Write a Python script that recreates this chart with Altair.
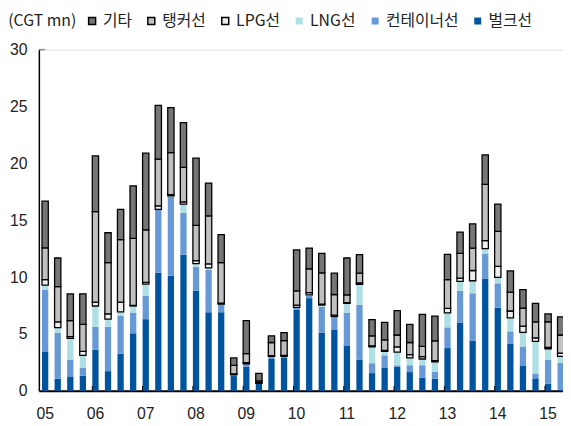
import altair as alt
import pandas as pd

quarters = [f"{y:02d}Q{q}" for y in range(5, 16) for q in range(1, 5)][:42]
year_starts = [q for q in quarters if q.endswith("Q1")]

series_names = ["기타", "탱커선", "LPG선", "LNG선", "컨테이너선", "벌크선"]
series_colors = ["#767676", "#C0C0C0", "#EEEEEE", "#AEDFE5", "#6699D5", "#00549F"]
series_strokes = ["#000000", "#000000", "#000000", "transparent", "transparent", "transparent"]
stack_rank = {"벌크선": 0, "컨테이너선": 1, "LNG선": 2, "LPG선": 3, "탱커선": 4, "기타": 5}

bulk = [3.47, 1.07, 1.27, 1.33, 3.61, 1.73, 3.27, 5.06, 6.3, 10.4,
        10.12, 11.97, 8.79, 6.91, 6.91, 1.3, 2.11, 0.66, 2.8, 2.89,
        7.14, 8.15, 5.12, 5.4, 3.99, 2.72, 1.56, 2.02, 2.11, 1.65,
        1.16, 1.07, 3.76, 6.01, 4.42, 9.88, 7.31, 4.16, 2.23, 1.1,
        0.61, 0.12]
container = [5.43, 4.05, 1.48, 0.69, 2.03, 3.91, 3.32, 1.82, 2.08, 5.5,
             6.93, 3.69, 2.13, 3.73, 0.66, 0.12, 0.26, 0.0, 0.23, 0.14,
             0.2, 0.23, 2.28, 1.07, 2.89, 4.85, 0.87, 1.1, 0.14, 0.6,
             1.09, 0.61, 1.82, 2.78, 4.16, 2.2, 2.14, 1.07, 1.67, 0.43,
             2.11, 2.34]
lng = [0.4, 0.43, 1.87, 1.1, 1.82, 0.66, 0.35, 0.58, 1.01, 0.05,
       0.09, 0.76, 0.26, 0.17, 0.05, 0.0, 0.0, 0.0, 0.0, 0.0,
       0.0, 0.06, 0.14, 0.06, 0.81, 1.79, 1.44, 0.35, 1.16, 0.64,
       0.55, 0.86, 1.27, 0.83, 1.1, 0.43, 0.52, 1.19, 1.24, 2.81,
       0.98, 0.57]
lpg = [0.47, 0.52, 0.15, 0.35, 0.34, 0.46, 0.86, 0.05, 0.15, 0.32,
       0.11, 0.2, 0.27, 0.35, 0.1, 0.08, 0.12, 0.09, 0.06, 0.09,
       0.2, 0.2, 0.09, 0.12, 0.06, 0.12, 0.09, 0.08, 0.46, 0.29,
       0.2, 0.12, 0.4, 0.29, 0.9, 0.7, 0.98, 0.6, 0.55, 0.31,
       0.12, 0.29]
tanker = [2.8, 3.09, 1.41, 2.37, 7.95, 4.51, 5.5, 5.9, 4.62, 4.11,
          3.7, 3.03, 3.09, 4.22, 3.55, 0.73, 0.78, 0.12, 1.16, 1.3,
          1.25, 2.08, 2.75, 1.82, 0.69, 0.87, 0.87, 0.93, 1.04, 1.07,
          0.9, 1.73, 2.52, 2.17, 1.96, 4.94, 3.07, 1.65, 1.59, 1.42,
          2.25, 1.59]
other = [4.11, 2.52, 2.35, 2.69, 4.91, 2.63, 2.65, 4.62, 6.74, 4.71,
         3.96, 3.93, 5.92, 2.89, 2.46, 0.66, 2.91, 0.66, 0.58, 0.7,
         3.61, 1.82, 1.7, 1.88, 3.24, 1.62, 1.44, 1.53, 2.14, 1.59,
         2.83, 2.17, 2.22, 1.88, 2.14, 2.6, 2.4, 1.88, 1.62, 1.62,
         0.69, 1.59]

series_values = {"벌크선": bulk, "컨테이너선": container, "LNG선": lng,
                 "LPG선": lpg, "탱커선": tanker, "기타": other}

rows = []
for name, vals in series_values.items():
    for q, v in zip(quarters, vals):
        rows.append({"q": q, "series": name, "value": v, "rank": stack_rank[name]})
df = pd.DataFrame(rows)

x_scale = alt.Scale(domain=quarters, paddingInner=0.5, paddingOuter=0.25)
FONT = "Liberation Sans"
KFONT = "Noto Sans CJK KR"

legend_kw = dict(title="(CGT mn)", orient="none", legendX=-31, legendY=-37,
                 direction="horizontal", titleOrient="left",
                 titleFont=KFONT, titleFontSize=16, titleFontWeight="normal",
                 titleColor="#222222", titlePadding=8,
                 labelFont=KFONT, labelFontSize=16, labelColor="#222222",
                 labelOffset=3, columnPadding=11, symbolType="square",
                 symbolSize=50, symbolStrokeWidth=1.5)

bars = alt.Chart(df).mark_bar(strokeWidth=1.3).encode(
    x=alt.X("q:N", scale=x_scale, sort=None, title=None,
            axis=alt.Axis(values=year_starts, labelExpr="substring(datum.value, 0, 2)",
                          labelAngle=0, tickSize=0, labelPadding=15, labelFontSize=16,
                          labelFont=FONT, labelColor="#222222", domainColor="#000000",
                          domainWidth=2)),
    y=alt.Y("value:Q", stack="zero", scale=alt.Scale(domain=[0, 30], nice=False), title=None,
            axis=alt.Axis(values=[0, 5, 10, 15, 20, 25, 30], tickSize=0, labelPadding=12,
                          labelFontSize=16, labelFont=FONT, labelColor="#222222",
                          domainColor="#000000", domainWidth=1.5, grid=False)),
    color=alt.Color("series:N", scale=alt.Scale(domain=series_names, range=series_colors),
                    legend=alt.Legend(**legend_kw)),
    stroke=alt.Stroke("series:N", scale=alt.Scale(domain=series_names, range=series_strokes),
                      legend=alt.Legend(**legend_kw)),
    order=alt.Order("rank:Q", sort="ascending"),
)

tick_df = pd.DataFrame({"q": year_starts[1:]})
ticks = alt.Chart(tick_df).mark_rule(color="#000000", strokeWidth=1).encode(
    x=alt.X("q:N", scale=x_scale, sort=None, bandPosition=0),
    y=alt.value(346), y2=alt.value(341),
)

top_tick = alt.Chart(alt.Data(values=[{}])).mark_rule(color="#888888", strokeWidth=1.5).encode(
    x=alt.value(0), x2=alt.value(6), y=alt.value(0)
)

chart = alt.layer(bars, ticks, top_tick).properties(
    width=535.5, height=346,
    autosize=alt.AutoSizeParams(type="none"),
    padding={"left": 31.3, "top": 39.3, "right": -4, "bottom": 30},
).configure_view(stroke=None).configure(background="white")

chart.save("out.html", embed_options={"renderer": "svg", "actions": False})
